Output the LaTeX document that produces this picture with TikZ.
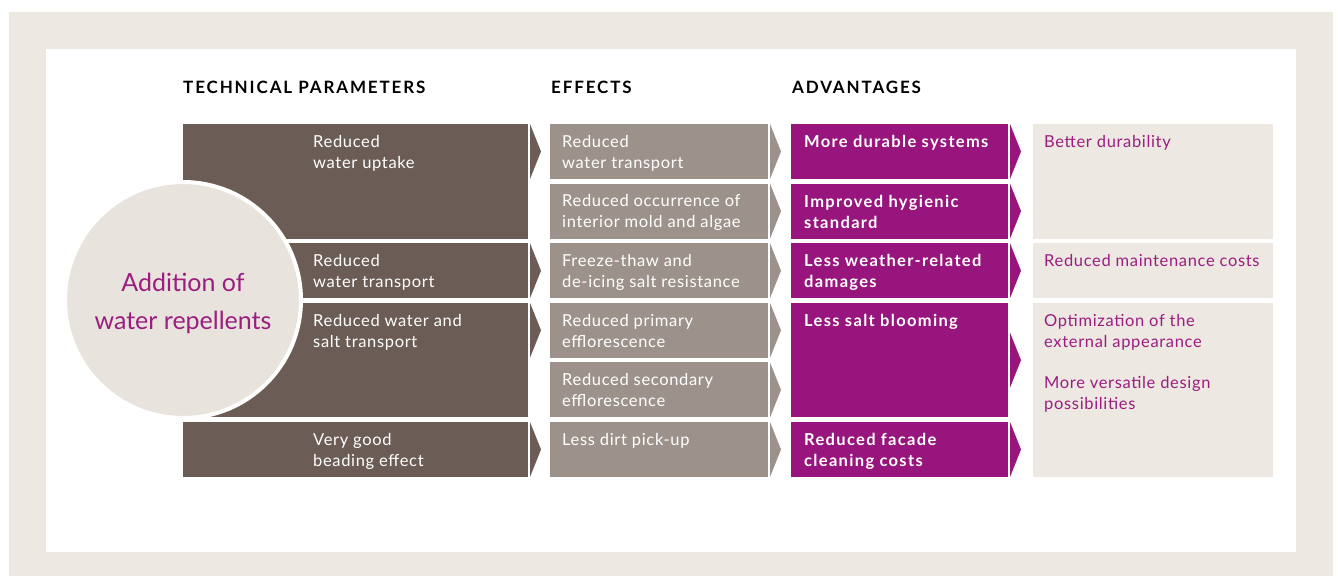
\documentclass[tikz,border=0pt]{standalone}
\usepackage{fontspec}
\setmainfont{Lato}
\newfontfamily\boxfont{Lato}[LetterSpace=4.0]
\newfontfamily\strongfont{Lato}[LetterSpace=8.0]
\newfontfamily\headfont{Lato}[LetterSpace=11.0]
\usetikzlibrary{calc}

\definecolor{frame}{HTML}{EDE8E2}
\definecolor{darkbrown}{HTML}{6B5D55}
\definecolor{greybrown}{HTML}{9C928B}
\definecolor{plum}{HTML}{98157D}
\definecolor{pale}{HTML}{EDE8E2}
\definecolor{disc}{HTML}{E8E4DD}
\definecolor{plumtext}{HTML}{9B1D80}

% chevron to the right of box #2, centred on box #3
\newcommand{\chev}[3]{\fill[#1] ($(#2.east |- #3.center)+(2,-27.5)$) -- ($(#2.east |- #3.center)+(13,0)$) -- ($(#2.east |- #3.center)+(2,27.5)$) -- cycle;}

\tikzset{
	box/.style={rectangle,anchor=north west,inner sep=0,outer sep=0,minimum width=#1},
	txt/.style={anchor=north west,inner sep=0,align=left,font=\boxfont\fontsize{16.5}{21}\selectfont},
	head/.style={anchor=base west,inner sep=0,font=\headfont\fontsize{17}{20}\selectfont\bfseries}
}

\begin{document}
\begin{tikzpicture}[x=1pt,y=-1pt]
	\useasboundingbox (0,0) rectangle (1338,576);
	\fill[frame] (9,12) rectangle (1333,576);
	\fill[white] (46,49) rectangle (1296,552);
	
	\node[head] (H1) at (183,93) {TECHNICAL PARAMETERS};
	\node[head] (H2) at (551,93) {EFFECTS};
	\node[head] (H3) at (792,93) {ADVANTAGES};
	
	% technical parameters
	\begin{scope}[every node/.style={box=345pt,fill=darkbrown}]
		\node[minimum height=114.6pt] (P1) at (183,124) {};
		\node[minimum height=55pt] (P2) at (183,243.2) {};
		\node[minimum height=114.6pt] (P3) at (183,302.8) {};
		\node[minimum height=55pt] (P4) at (183,422) {};
	\end{scope}
	
	% effects
	\begin{scope}[every node/.style={box=218pt,fill=greybrown,minimum height=55pt}]
		\node (E1) at (550,124) {};
		\node (E2) at (550,183.6) {};
		\node (E3) at (550,243.2) {};
		\node (E4) at (550,302.8) {};
		\node (E5) at (550,362.4) {};
		\node (E6) at (550,422) {};
	\end{scope}
	
	% advantages
	\begin{scope}[every node/.style={box=217pt,fill=plum}]
		\node[minimum height=55pt] (A1) at (791,124) {};
		\node[minimum height=55pt] (A2) at (791,183.6) {};
		\node[minimum height=55pt] (A3) at (791,243.2) {};
		\node[minimum height=114.6pt] (A4) at (791,302.8) {};
		\node[minimum height=55pt] (A5) at (791,422) {};
	\end{scope}
	
	% benefits
	\begin{scope}[every node/.style={box=240pt,fill=pale}]
		\node[minimum height=114.6pt] (B1) at (1033,124) {};
		\node[minimum height=55pt] (B2) at (1033,243.2) {};
		\node[minimum height=174.2pt] (B3) at (1033,302.8) {};
	\end{scope}
	
	\chev{darkbrown}{P1}{E1}
	\chev{darkbrown}{P2}{E3}
	\chev{darkbrown}{P3}{E4}
	\chev{darkbrown}{P4}{E6}
	\chev{greybrown}{E1}{E1}
	\chev{greybrown}{E2}{E2}
	\chev{greybrown}{E3}{E3}
	\chev{greybrown}{E4}{E4}
	\chev{greybrown}{E5}{E5}
	\chev{greybrown}{E6}{E6}
	\chev{plum}{A1}{A1}
	\chev{plum}{A2}{A2}
	\chev{plum}{A3}{A3}
	\chev{plum}{A4}{A4}
	\chev{plum}{A5}{A5}
	
	\node[circle,fill=disc,draw=white,line width=4pt,minimum size=236pt,inner sep=0] (C) at (183,300) {};
	\node[text=plumtext,align=center,inner sep=0,font=\fontsize{25}{38}\selectfont] (Ct) at (183,303)
		{Addition of\\water repellents};
	
	\begin{scope}[every node/.style={txt,text=white}]
		\node (tP1) at ($(P1.north west)+(130,11)$) {Reduced\\water uptake};
		\node (tP2) at ($(P2.north west)+(130,11)$) {Reduced\\water transport};
		\node (tP3) at ($(P3.north west)+(130,11)$) {Reduced water and\\salt transport};
		\node (tP4) at ($(P4.north west)+(130,11)$) {Very good\\beading effect};
		\node (tE1) at ($(E1.north west)+(12,11)$) {Reduced\\water transport};
		\node (tE2) at ($(E2.north west)+(12,11)$) {Reduced occurrence of\\interior mold and algae};
		\node (tE3) at ($(E3.north west)+(12,11)$) {Freeze-thaw and\\de-icing salt resistance};
		\node (tE4) at ($(E4.north west)+(12,11)$) {Reduced primary\\efflorescence};
		\node (tE5) at ($(E5.north west)+(12,11)$) {Reduced secondary\\efflorescence};
		\node (tE6) at ($(E6.north west)+(12,11)$) {Less dirt pick-up};
	\end{scope}
	
	\begin{scope}[every node/.style={txt,text=white,font=\strongfont\fontsize{16.5}{21}\selectfont\bfseries}]
		\node (tA1) at ($(A1.north west)+(13,11)$) {More durable systems};
		\node (tA2) at ($(A2.north west)+(13,11)$) {Improved hygienic\\standard};
		\node (tA3) at ($(A3.north west)+(13,11)$) {Less weather-related\\damages};
		\node (tA4) at ($(A4.north west)+(13,11)$) {Less salt blooming};
		\node (tA5) at ($(A5.north west)+(13,11)$) {Reduced facade\\cleaning costs};
	\end{scope}
	
	\begin{scope}[every node/.style={txt,text=plumtext}]
		\node (tB1) at ($(B1.north west)+(11,11)$) {Better durability};
		\node (tB2) at ($(B2.north west)+(11,11)$) {Reduced maintenance costs};
		\node (tB3) at ($(B3.north west)+(11,11)$) {Optimization of the\\external appearance\\[20pt]More versatile design\\possibilities};
	\end{scope}
\end{tikzpicture}
\end{document}
